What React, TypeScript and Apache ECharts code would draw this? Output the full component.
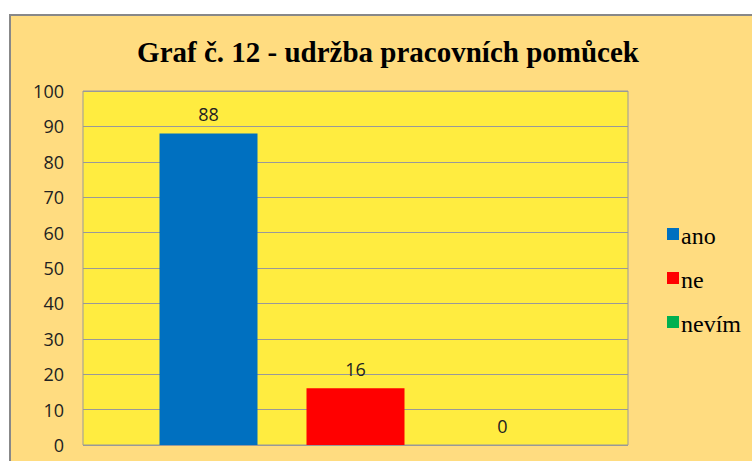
import React, { useEffect, useRef } from "react";
import * as echarts from "echarts";

const title = "Graf č. 12 - udržba pracovních pomůcek";
const categories = [""];
const seriesNames = ["ano", "ne", "nevím"];
const seriesValues = [[88], [16], [0]];
const seriesColors = ["#0070C0", "#FF0000", "#00B050"];

const SERIF = "'Liberation Serif', serif";

function buildOption() {
  return {
    animation: false,
    backgroundColor: "#ffffff",
    graphic: [
      {
        type: "rect",
        z: -10,
        shape: { x: 10, y: 15, width: 760, height: 460 },
        style: { fill: "#FFDC80", stroke: "#888888", lineWidth: 2 },
      },
    ],
    title: {
      text: title,
      left: 383,
      textAlign: "center",
      top: 32,
      textStyle: {
        fontFamily: SERIF,
        fontWeight: "bold",
        fontSize: 29,
        color: "#000",
      },
    },
    legend: {
      orient: "vertical",
      left: 662,
      top: 215,
      itemWidth: 12,
      itemHeight: 12,
      itemGap: 16,
      icon: "rect",
      formatter: "{n|{name}}",
      textStyle: {
        fontFamily: SERIF,
        fontSize: 24,
        lineHeight: 24,
        color: "#000",
        rich: {
          n: {
            fontFamily: SERIF,
            fontSize: 24,
            lineHeight: 24,
            color: "#000",
            padding: [4, 0, 0, -3],
          },
        },
      },
      data: seriesNames,
    },
    grid: {
      left: 83,
      top: 91,
      right: 124,
      bottom: 16,
      show: true,
      backgroundColor: "#FFEC40",
      borderColor: "#999999",
      borderWidth: 1,
    },
    xAxis: {
      type: "category",
      data: categories,
      axisLine: { show: false },
      axisTick: { show: false },
      axisLabel: { show: false },
    },
    yAxis: {
      type: "value",
      min: 0,
      max: 100,
      interval: 10,
      axisLine: { show: false },
      axisTick: { show: false },
      axisLabel: {
        fontFamily: "Open Sans",
        fontSize: 18,
        color: "#222",
        margin: 19,
      },
      splitLine: { lineStyle: { color: "#999999", width: 1 } },
    },
    series: seriesNames.map((name, i) => ({
      name,
      type: "bar",
      data: seriesValues[i],
      barWidth: 98,
      barGap: "50%",
      itemStyle: { color: seriesColors[i] },
      label: {
        show: true,
        position: "top",
        distance: 10,
        fontFamily: "Open Sans",
        fontSize: 18,
        color: "#222",
      },
    })),
  };
}

export default function App() {
  const ref = useRef<HTMLDivElement>(null);
  useEffect(() => {
    if (!ref.current) return;
    const chart = echarts.init(ref.current, null, { renderer: "svg" });
    chart.setOption(buildOption());
    let alive = true;
    const fonts = (document as any).fonts;
    if (fonts && fonts.load) {
      Promise.all([
        fonts.load("bold 29px 'Liberation Serif'"),
        fonts.load("24px 'Liberation Serif'"),
        fonts.load("18px 'Open Sans'"),
      ])
        .catch(() => null)
        .then(() => {
          if (alive) chart.setOption(buildOption(), true);
        });
    }
    return () => {
      alive = false;
      chart.dispose();
    };
  }, []);
  return (
    <>
      <div
        aria-hidden="true"
        style={{ position: "absolute", left: -2000, top: 0, opacity: 0, pointerEvents: "none" }}
      >
        <span style={{ fontFamily: SERIF, fontSize: 24 }}>ano ne nevím</span>
        <span style={{ fontFamily: SERIF, fontSize: 29, fontWeight: "bold" }}>Graf č.</span>
        <span style={{ fontFamily: "Open Sans", fontSize: 18 }}>0123456789</span>
      </div>
      <div
        ref={ref}
        style={{ position: "absolute", left: 0, top: 0, width: 752, height: 461 }}
      />
    </>
  );
}
